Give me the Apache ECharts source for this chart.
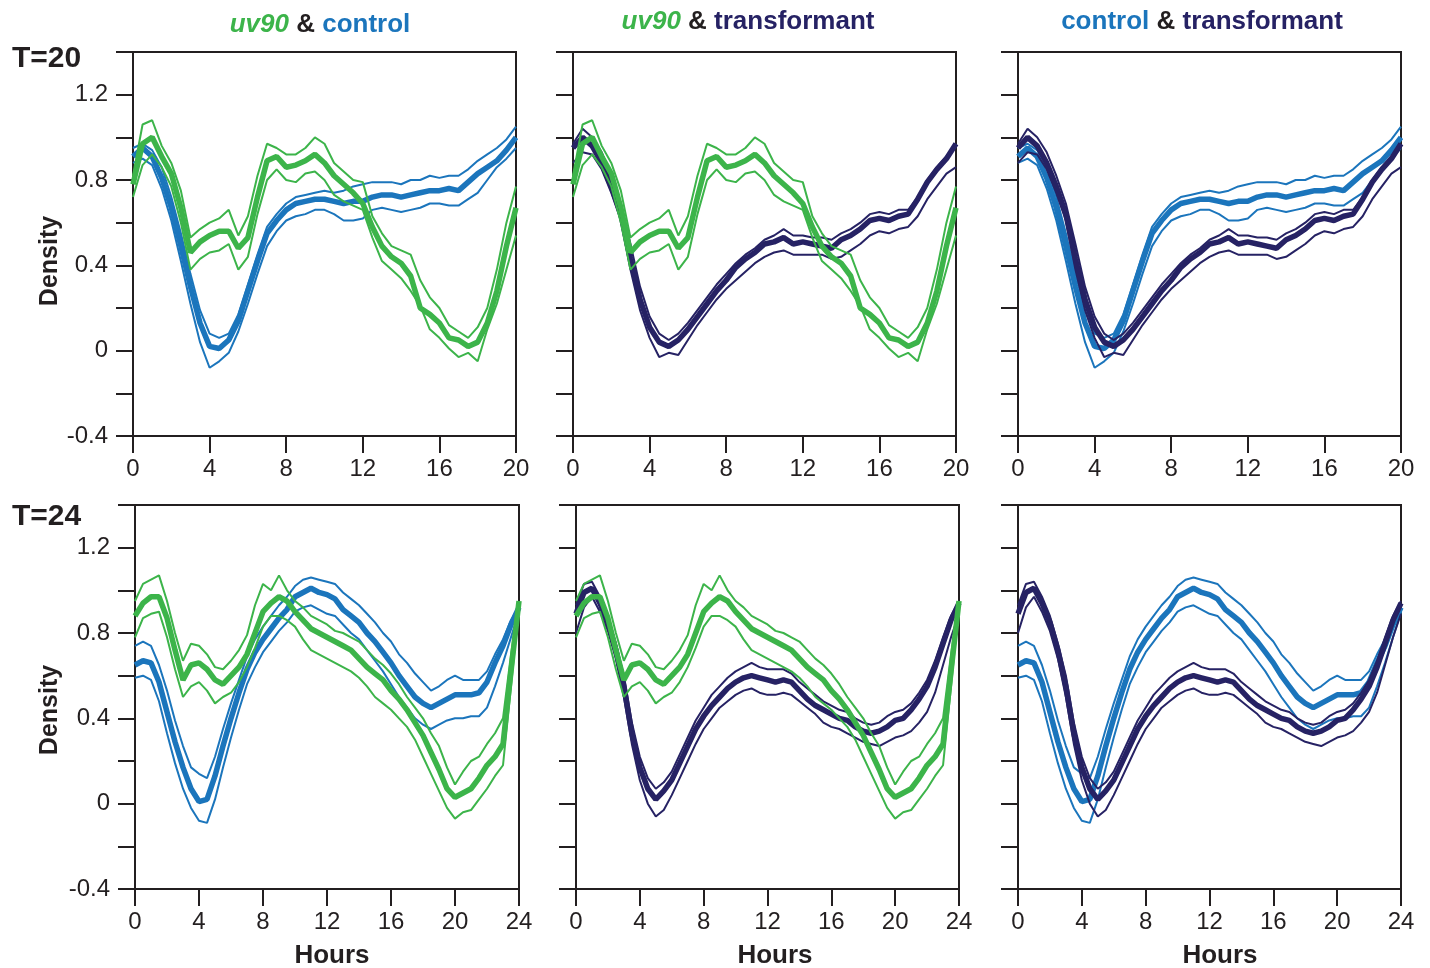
<!DOCTYPE html>
<html>
<head>
<meta charset="utf-8">
<script src="https://cdn.jsdelivr.net/npm/echarts@6/dist/echarts.min.js"></script>
<style>
html,body{margin:0;padding:0;background:#fff;}
#chart{width:1430px;height:968px;}
</style>
</head>
<body>
<div id="chart"></div>
<script>
// ---- data (hours, densities) ----
const hours20 = [0,0.5,1,1.5,2,2.5,3,3.5,4,4.5,5,5.5,6,6.5,7,7.5,8,8.5,9,9.5,10,10.5,11,11.5,12,12.5,13,13.5,14,14.5,15,15.5,16,16.5,17,17.5,18,18.5,19,19.5,20];
const hours24 = [0,0.5,1,1.5,2,2.5,3,3.5,4,4.5,5,5.5,6,6.5,7,7.5,8,8.5,9,9.5,10,10.5,11,11.5,12,12.5,13,13.5,14,14.5,15,15.5,16,16.5,17,17.5,18,18.5,19,19.5,20,20.5,21,21.5,22,22.5,23,23.5,24];
const xTicks20 = [0,4,8,12,16,20];
const xTicks24 = [0,4,8,12,16,20,24];
const yTickLabels = ['-0.4','0','0.4','0.8','1.2'];

// T=20
const control20Mean  = [0.91,0.95,0.91,0.81,0.67,0.49,0.30,0.13,0.02,0.01,0.05,0.14,0.28,0.42,0.55,0.61,0.66,0.69,0.70,0.71,0.71,0.70,0.69,0.70,0.70,0.72,0.73,0.73,0.72,0.73,0.74,0.75,0.75,0.76,0.75,0.79,0.83,0.86,0.89,0.94,1.00];
const control20Upper = [0.95,0.97,0.94,0.86,0.72,0.55,0.36,0.19,0.08,0.06,0.08,0.17,0.31,0.45,0.58,0.64,0.69,0.72,0.73,0.74,0.75,0.74,0.75,0.77,0.78,0.79,0.79,0.79,0.78,0.80,0.80,0.82,0.81,0.82,0.82,0.85,0.89,0.92,0.95,0.99,1.05];
const control20Lower = [0.88,0.90,0.87,0.76,0.61,0.42,0.22,0.04,-0.08,-0.05,-0.01,0.09,0.22,0.36,0.49,0.56,0.61,0.63,0.64,0.66,0.66,0.64,0.61,0.61,0.62,0.66,0.67,0.66,0.65,0.66,0.67,0.69,0.69,0.68,0.68,0.71,0.74,0.80,0.86,0.90,0.95];

const uv20Mean  = [0.78,0.97,1.00,0.91,0.83,0.67,0.46,0.51,0.54,0.56,0.56,0.48,0.53,0.72,0.89,0.91,0.86,0.87,0.89,0.92,0.88,0.82,0.78,0.74,0.69,0.58,0.49,0.44,0.41,0.35,0.20,0.17,0.13,0.06,0.05,0.02,0.04,0.13,0.28,0.49,0.67];
const uv20Upper = [0.82,1.06,1.08,0.96,0.88,0.75,0.53,0.57,0.60,0.62,0.66,0.54,0.63,0.82,0.97,0.95,0.92,0.92,0.95,1.00,0.97,0.88,0.84,0.80,0.79,0.63,0.55,0.49,0.47,0.45,0.33,0.25,0.20,0.12,0.09,0.06,0.11,0.20,0.38,0.60,0.77];
const uv20Lower = [0.72,0.87,0.92,0.86,0.77,0.60,0.38,0.43,0.46,0.47,0.50,0.38,0.44,0.64,0.80,0.85,0.80,0.79,0.83,0.84,0.80,0.73,0.70,0.68,0.66,0.53,0.42,0.38,0.34,0.28,0.21,0.10,0.06,0.01,-0.03,-0.01,-0.05,0.10,0.22,0.38,0.54];

const trans20Mean  = [0.95,1.00,0.96,0.88,0.77,0.64,0.43,0.24,0.11,0.04,0.02,0.05,0.10,0.16,0.22,0.28,0.33,0.39,0.43,0.46,0.50,0.51,0.53,0.50,0.51,0.50,0.49,0.48,0.52,0.54,0.57,0.61,0.62,0.61,0.63,0.64,0.71,0.79,0.85,0.90,0.97];
const trans20Upper = [0.97,1.04,1.00,0.93,0.82,0.69,0.50,0.30,0.16,0.08,0.05,0.08,0.13,0.19,0.25,0.31,0.36,0.41,0.45,0.48,0.52,0.54,0.57,0.54,0.54,0.53,0.53,0.52,0.55,0.57,0.60,0.64,0.65,0.64,0.66,0.66,0.72,0.80,0.86,0.91,0.97];
const trans20Lower = [0.88,0.93,0.92,0.85,0.74,0.61,0.38,0.19,0.06,-0.03,-0.01,-0.02,0.05,0.12,0.18,0.24,0.29,0.33,0.37,0.41,0.44,0.46,0.47,0.45,0.45,0.45,0.45,0.43,0.44,0.47,0.50,0.54,0.56,0.55,0.57,0.58,0.63,0.71,0.77,0.83,0.86];

// T=24
const control24Mean  = [0.65,0.67,0.66,0.57,0.43,0.29,0.17,0.07,0.01,0.02,0.13,0.27,0.40,0.52,0.63,0.71,0.77,0.82,0.87,0.91,0.97,0.99,1.01,0.99,0.98,0.96,0.91,0.88,0.85,0.80,0.76,0.71,0.66,0.60,0.55,0.50,0.47,0.45,0.47,0.49,0.51,0.51,0.51,0.52,0.57,0.66,0.74,0.84,0.92];
const control24Upper = [0.74,0.76,0.74,0.65,0.53,0.39,0.27,0.17,0.14,0.12,0.22,0.35,0.47,0.58,0.69,0.77,0.83,0.88,0.93,0.97,1.02,1.05,1.06,1.05,1.04,1.03,0.99,0.96,0.93,0.89,0.85,0.80,0.76,0.70,0.66,0.61,0.57,0.53,0.55,0.58,0.60,0.58,0.58,0.58,0.62,0.70,0.77,0.86,0.92];
const control24Lower = [0.59,0.60,0.58,0.48,0.33,0.19,0.07,-0.02,-0.08,-0.09,0.02,0.17,0.31,0.44,0.56,0.64,0.71,0.76,0.81,0.85,0.90,0.92,0.93,0.91,0.89,0.88,0.84,0.80,0.77,0.72,0.67,0.62,0.56,0.50,0.45,0.40,0.37,0.35,0.37,0.39,0.40,0.40,0.41,0.41,0.45,0.55,0.66,0.78,0.90];

const uv24Mean  = [0.88,0.94,0.97,0.97,0.87,0.72,0.58,0.65,0.66,0.63,0.58,0.56,0.60,0.64,0.70,0.80,0.90,0.94,0.97,0.95,0.90,0.86,0.82,0.80,0.78,0.76,0.74,0.72,0.68,0.64,0.61,0.58,0.53,0.49,0.44,0.38,0.32,0.24,0.16,0.07,0.03,0.05,0.07,0.12,0.18,0.22,0.28,0.62,0.95];
const uv24Upper = [0.95,1.03,1.05,1.07,0.95,0.80,0.67,0.75,0.74,0.70,0.64,0.63,0.67,0.72,0.79,0.93,1.03,1.00,1.07,1.00,0.95,0.92,0.88,0.86,0.84,0.81,0.80,0.78,0.76,0.72,0.68,0.65,0.61,0.56,0.50,0.45,0.40,0.33,0.27,0.17,0.09,0.15,0.20,0.22,0.28,0.33,0.40,0.70,0.95];
const uv24Lower = [0.78,0.87,0.89,0.90,0.78,0.63,0.50,0.55,0.57,0.53,0.47,0.50,0.52,0.57,0.64,0.73,0.83,0.88,0.88,0.86,0.83,0.77,0.72,0.70,0.68,0.66,0.64,0.62,0.59,0.55,0.50,0.47,0.44,0.40,0.36,0.30,0.22,0.14,0.06,-0.02,-0.07,-0.04,-0.03,0.02,0.07,0.13,0.18,0.55,0.93];

const trans24Mean  = [0.89,0.99,1.01,0.94,0.85,0.72,0.55,0.33,0.17,0.07,0.02,0.06,0.11,0.19,0.27,0.35,0.41,0.46,0.50,0.54,0.57,0.59,0.60,0.59,0.58,0.57,0.58,0.57,0.53,0.49,0.46,0.44,0.42,0.40,0.39,0.36,0.34,0.33,0.34,0.36,0.39,0.40,0.44,0.49,0.55,0.64,0.75,0.86,0.94];
const trans24Upper = [0.93,1.03,1.04,0.97,0.88,0.75,0.60,0.38,0.22,0.12,0.07,0.10,0.15,0.23,0.31,0.39,0.45,0.51,0.55,0.59,0.62,0.64,0.66,0.64,0.63,0.63,0.63,0.61,0.57,0.54,0.51,0.48,0.46,0.44,0.43,0.40,0.38,0.37,0.38,0.41,0.43,0.44,0.47,0.52,0.58,0.67,0.78,0.88,0.95];
const trans24Lower = [0.80,0.92,0.97,0.90,0.81,0.68,0.50,0.28,0.11,0.00,-0.06,-0.03,0.04,0.12,0.20,0.28,0.35,0.40,0.45,0.48,0.51,0.53,0.54,0.52,0.51,0.51,0.52,0.51,0.48,0.45,0.42,0.38,0.36,0.35,0.33,0.31,0.29,0.28,0.27,0.29,0.31,0.32,0.34,0.38,0.43,0.52,0.65,0.78,0.89];

// ---- styling ----
const GREEN = '#3cb44a', BLUE = '#1b75bc', NAVY = '#262264', INK = '#231f20';
const FONT = '"Liberation Sans", Arial, Helvetica, sans-serif';

const groups = {
  control20: {hours: hours20, color: BLUE, lines: [control20Upper, control20Lower, control20Mean]},
  uv20:      {hours: hours20, color: GREEN, lines: [uv20Upper, uv20Lower, uv20Mean]},
  trans20:   {hours: hours20, color: NAVY, lines: [trans20Upper, trans20Lower, trans20Mean]},
  control24: {hours: hours24, color: BLUE, lines: [control24Upper, control24Lower, control24Mean]},
  uv24:      {hours: hours24, color: GREEN, lines: [uv24Upper, uv24Lower, uv24Mean]},
  trans24:   {hours: hours24, color: NAVY, lines: [trans24Upper, trans24Lower, trans24Mean]}
};

const panels = [
  {grid: {left:133, top:52, width:383, height:384}, max:20, ticks:xTicks20, yLabels:true,  groups:['control20','uv20']},
  {grid: {left:573, top:52, width:383, height:384}, max:20, ticks:xTicks20, yLabels:false, groups:['trans20','uv20']},
  {grid: {left:1018,top:52, width:383, height:384}, max:20, ticks:xTicks20, yLabels:false, groups:['control20','trans20']},
  {grid: {left:135, top:505,width:384, height:384}, max:24, ticks:xTicks24, yLabels:true,  groups:['control24','uv24']},
  {grid: {left:576, top:505,width:383, height:384}, max:24, ticks:xTicks24, yLabels:false, groups:['trans24','uv24']},
  {grid: {left:1018,top:505,width:383, height:384}, max:24, ticks:xTicks24, yLabels:false, groups:['control24','trans24']}
];

const grids = [], xAxes = [], yAxes = [], series = [];
panels.forEach((p, i) => {
  grids.push(Object.assign({show:true, borderColor:INK, borderWidth:2, backgroundColor:'transparent'}, p.grid));
  xAxes.push({
    type:'value', gridIndex:i, min:0, max:p.max, interval:4,
    axisLine:{show:true, onZero:false, lineStyle:{color:INK, width:2}},
    axisTick:{show:true, inside:false, length:17, lineStyle:{color:INK, width:2}},
    axisLabel:{show:true, margin:21, color:INK, fontSize:24, fontFamily:FONT,
      formatter: v => p.ticks.indexOf(v) >= 0 ? String(v) : ''},
    splitLine:{show:false}
  });
  yAxes.push({
    type:'value', gridIndex:i, min:-0.4, max:1.4, interval:0.2,
    axisLine:{show:true, onZero:false, lineStyle:{color:INK, width:2}},
    axisTick:{show:true, inside:false, length:17, lineStyle:{color:INK, width:2}},
    axisLabel:{show:p.yLabels, margin:25, color:INK, fontSize:24, fontFamily:FONT,
      formatter: v => { const s = String(Math.round(v*10)/10); return yTickLabels.indexOf(s) >= 0 ? s : ''; }},
    splitLine:{show:false}
  });
  p.groups.forEach(gk => {
    const g = groups[gk];
    g.lines.forEach((arr, li) => {
      series.push({
        type:'line', xAxisIndex:i, yAxisIndex:i,
        data: g.hours.map((h, k) => [h, arr[k]]),
        showSymbol:false, symbol:'none', smooth:false, animation:false,
        lineStyle:{color:g.color, width: li === 2 ? 5.5 : 2},
        z: 2
      });
    });
  });
});

function titleText(x, y, text, rich) {
  return {type:'text', x:x, y:y, silent:true,
    style:{text:text, rich:rich, align:'center', verticalAlign:'middle', font:'bold 26px ' + FONT, fill:INK}};
}
const rich = {
  g:{fill:GREEN, font:'italic bold 26px ' + FONT},
  k:{fill:INK, font:'bold 26px ' + FONT},
  b:{fill:BLUE, font:'bold 26px ' + FONT},
  n:{fill:NAVY, font:'bold 26px ' + FONT}
};

const graphics = [
  titleText(320, 25, '{g|uv90} {k|&} {b|control}', rich),
  titleText(748, 22, '{g|uv90} {k|&} {n|transformant}', rich),
  titleText(1202, 22, '{b|control} {k|&} {n|transformant}', rich),
  {type:'text', x:12, y:59, style:{text:'T=20', font:'bold 30px ' + FONT, fill:INK, align:'left', verticalAlign:'middle'}},
  {type:'text', x:12, y:517, style:{text:'T=24', font:'bold 30px ' + FONT, fill:INK, align:'left', verticalAlign:'middle'}},
  {type:'text', x:50, y:261, rotation:Math.PI/2, style:{text:'Density', font:'bold 25px ' + FONT, fill:INK, align:'center', verticalAlign:'middle'}},
  {type:'text', x:50, y:710, rotation:Math.PI/2, style:{text:'Density', font:'bold 25px ' + FONT, fill:INK, align:'center', verticalAlign:'middle'}},
  {type:'text', x:332, y:956, style:{text:'Hours', font:'bold 26px ' + FONT, fill:INK, align:'center', verticalAlign:'middle'}},
  {type:'text', x:775, y:956, style:{text:'Hours', font:'bold 26px ' + FONT, fill:INK, align:'center', verticalAlign:'middle'}},
  {type:'text', x:1220, y:956, style:{text:'Hours', font:'bold 26px ' + FONT, fill:INK, align:'center', verticalAlign:'middle'}}
];

const chart = echarts.init(document.getElementById('chart'), null, {renderer:'canvas'});
chart.setOption({
  backgroundColor:'#ffffff',
  animation:false,
  grid: grids, xAxis: xAxes, yAxis: yAxes, series: series,
  graphic: graphics
});
</script>
</body>
</html>
